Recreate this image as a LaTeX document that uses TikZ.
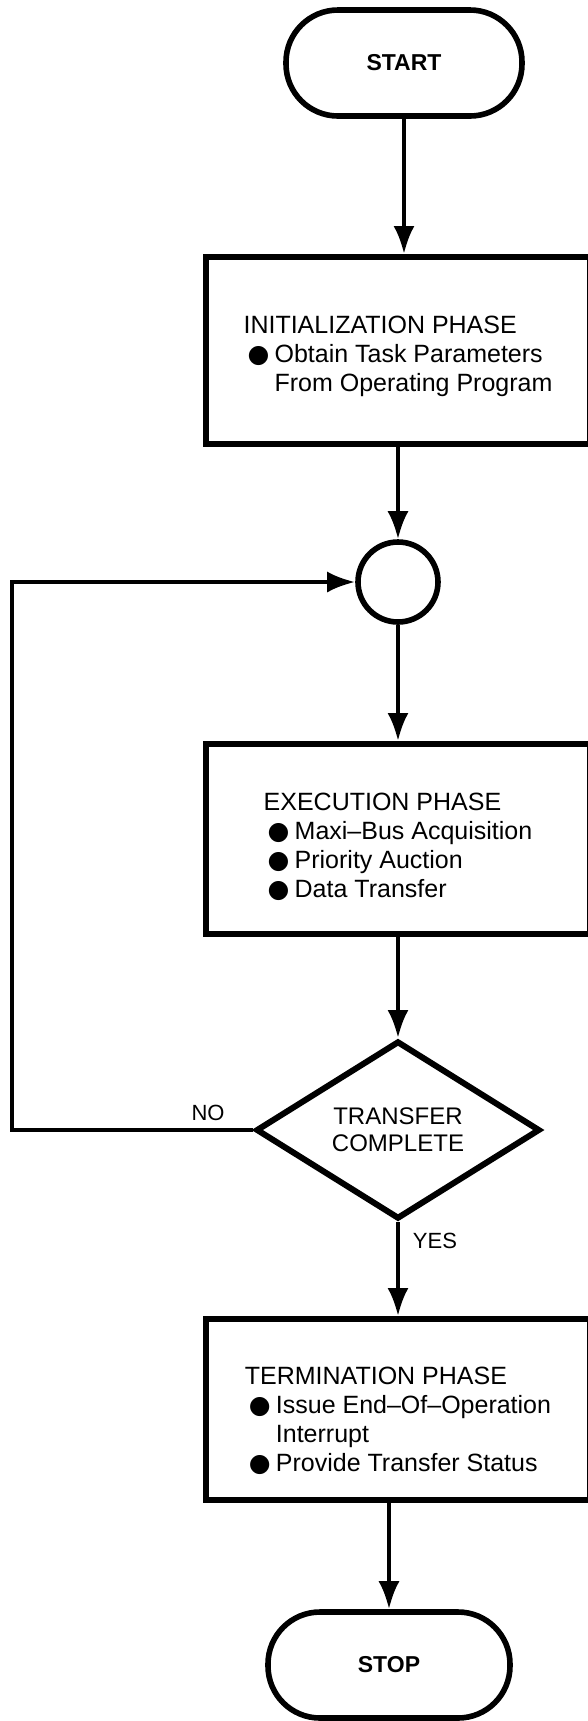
\documentclass[tikz,border=0pt]{standalone}
\usepackage{fontspec}
\setmainfont{Liberation Sans}
\newfontfamily\dotfont{DejaVu Sans}
\usetikzlibrary{shapes.geometric,arrows.meta}
\newcommand{\itm}{\hspace*{2pt}\makebox[13.5pt][l]{\dotfont\char"25CF}}
\newcommand{\cont}{\hspace*{15.5pt}}
\newcommand{\topstrut}[1]{\rule{0pt}{#1}}

\begin{document}
\begin{tikzpicture}[auto]
    \tikzstyle{block} = [rectangle, draw, line width=3pt, align=left,
        minimum width=192pt, font=\fontsize{12.5}{14.5}\selectfont]
    \tikzstyle{term} = [rectangle, draw, line width=2.8pt, rounded corners=26pt,
        minimum width=118pt, minimum height=53pt, font=\bfseries\fontsize{11.5}{13}\selectfont]
    \tikzstyle{line} = [draw, line width=2pt, -{Latex[length=14pt,width=10.5pt]}]
    \tikzstyle{lbl} = [font=\fontsize{11}{13}\selectfont]

    \useasboundingbox (0,0) rectangle (294pt,-860.5pt);

    \node [term] (start) at (202pt,-31.5pt) {START};
    \node [block, below of=start, node distance=143.75pt, xshift=-3pt,
        minimum height=93.5pt] (init)
        {\topstrut{14.5pt}INITIALIZATION PHASE\\ \itm Obtain Task Parameters\\ \cont From Operating Program};
    \node [circle, draw, line width=2.8pt, minimum size=40pt,
        below of=init, node distance=115.75pt] (circ) {};
    \node [block, below of=circ, node distance=128.5pt, minimum height=95pt] (exec)
        {\topstrut{17pt}EXECUTION PHASE\\ \itm Maxi--Bus Acquisition\\ \itm Priority Auction\\ \itm Data Transfer};
    \node [diamond, draw, line width=3pt, aspect=1.6, inner sep=0pt,
        minimum width=142pt, minimum height=89pt, align=center,
        font=\fontsize{12}{13.5}\selectfont,
        below of=exec, node distance=145.5pt] (diam) {TRANSFER\\COMPLETE};
    \node [block, below of=diam, node distance=139.75pt, minimum height=90.5pt] (term)
        {\topstrut{20pt}TERMINATION PHASE\\ \itm Issue End--Of--Operation\\ \cont Interrupt\\ \itm Provide Transfer Status};
    \node [term, below of=term, node distance=127.75pt, xshift=-4.5pt,
        minimum width=121pt] (stop) {STOP};
    %
    \node [lbl, left of=diam, node distance=95pt, yshift=8.5pt] (no) {NO};
    \node [lbl, below of=diam, node distance=55.5pt, xshift=18.5pt] (yes) {YES};
    %
    \coordinate [left of=diam, node distance=193pt] (nocorner);
    \coordinate [left of=circ, node distance=193pt] (loopcorner);
    %
    \path [line] (start) -- (start |- init.north);
    \path [line] (init) -- (circ);
    \path [line] (circ) -- (exec);
    \path [line] (exec) -- (diam);
    \path [line] (diam) -- (term);
    \path [line] (stop |- term.south) -- (stop);
    \path [line] (diam.west) -- (nocorner) -- (loopcorner) -- (circ);
\end{tikzpicture}
\end{document}
